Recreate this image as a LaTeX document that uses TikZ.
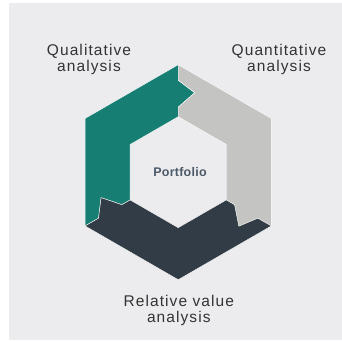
\documentclass[tikz,border=0pt]{standalone}
\usepackage{fontspec}
\setmainfont{Liberation Sans}
\newfontfamily\labelfont{Liberation Sans}[LetterSpace=7]
\newfontfamily\portfont{Liberation Sans}[LetterSpace=2]
\usetikzlibrary{calc}
\definecolor{bgc}{HTML}{ECECEE}
\definecolor{tealc}{HTML}{167E72}
\definecolor{grayc}{HTML}{C4C5C3}
\definecolor{darkc}{HTML}{323C46}
\definecolor{txtc}{HTML}{333333}
\definecolor{portc}{HTML}{4B5968}
\tikzset{
  seg/.style={draw=white, line width=0.4pt, line join=miter},
  lab/.style={align=center, inner sep=0pt, text=txtc, anchor=base,
    font=\labelfont\fontsize{15.5}{16.7}\selectfont},
  port/.style={inner sep=0pt, text=portc, anchor=base,
    font=\portfont\bfseries\fontsize{12.5}{14}\selectfont}
}
\begin{document}
\begin{tikzpicture}[x=1pt,y=-1pt]
\useasboundingbox (0,0) rectangle (342,341);
\fill[white] (0,0) rectangle (342,341);
\fill[bgc] (9,3) rectangle (342,340);
\begin{scope}[shift={(178.2,172.2)}]
  \def\Ro{107.5}
  \def\Ri{55.5}
  \coordinate (a270) at ($(270:79.5)+(0:16.5)$);
  \coordinate (a30) at ($(30:79.5)+(120:16.5)$);
  \coordinate (a150) at ($(150:79.5)+(240:16.5)$);
  % teal segment
  \fill[tealc, seg] (150:\Ro) -- (210:\Ro) -- (270:\Ro) -- (270:92) -- (a270) -- (270:65) -- (270:\Ri)
    -- (210:\Ri) -- (150:\Ri) -- (150:65) -- (a150) -- (150:92) -- cycle;
  % gray segment
  \fill[grayc, seg] (270:\Ro) -- (330:\Ro) -- (30:\Ro) -- (30:92) -- (a30) -- (30:65) -- (30:\Ri)
    -- (330:\Ri) -- (270:\Ri) -- (270:65) -- (a270) -- (270:92) -- cycle;
  % dark segment
  \fill[darkc, seg] (30:\Ro) -- (90:\Ro) -- (150:\Ro) -- (150:92) -- (a150) -- (150:65) -- (150:\Ri)
    -- (90:\Ri) -- (30:\Ri) -- (30:65) -- (a30) -- (30:92) -- cycle;
\end{scope}
\node[port] (portfolio) at (180,176.7) {Portfolio};
\node[lab] (qual) at (89,71.7) {Qualitative\\analysis};
\node[lab] (quant) at (279,71.7) {Quantitative\\analysis};
\node[lab] (rel) at (178.8,322.7) {Relative value\\analysis};
\end{tikzpicture}
\end{document}
